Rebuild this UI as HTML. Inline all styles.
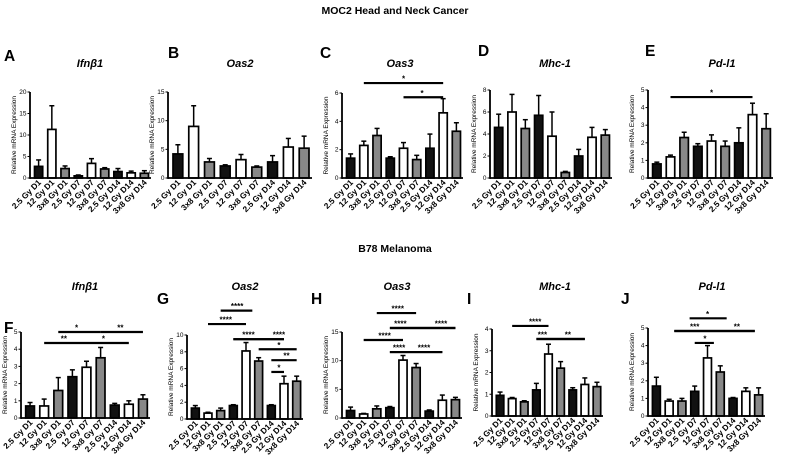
<!DOCTYPE html>
<html><head><meta charset="utf-8"><style>
body{margin:0;background:#fff;}
svg{display:block;font-family:"Liberation Sans",Arial,sans-serif;}
</style></head><body>
<svg id="fig" width="789" height="465" viewBox="0 0 789 465">
<text x="395" y="14" text-anchor="middle" font-size="10.5" font-weight="bold">MOC2 Head and Neck Cancer</text>
<text x="395" y="252" text-anchor="middle" font-size="10.5" font-weight="bold">B78 Melanoma</text>
</svg>
<script>
const categories = ["2.5 Gy D1","12 Gy D1","3x8 Gy D1","2.5 Gy D7","12 Gy D7","3x8 Gy D7","2.5 Gy D14","12 Gy D14","3x8 Gy D14"];
const valsA=[2.7,11.3,2.2,0.5,3.4,2.1,1.5,1.2,1.1];
const errA=[4.2,16.8,2.8,0.7,4.5,2.4,2.2,1.6,1.7];
const ticksA=[0,5,10,15,20];
const valsB=[4.2,9,2.8,2.1,3.2,1.9,2.8,5.4,5.2];
const errB=[5.8,12.6,3.4,2.3,4.1,2.1,3.9,6.9,7.3];
const ticksB=[0,5,10,15];
const valsC=[1.4,2.3,3.0,1.4,2.1,1.3,2.1,4.6,3.3];
const errC=[1.7,2.6,3.5,1.5,2.5,1.6,3.1,5.6,3.9];
const ticksC=[0,2,4,6];
const valsD=[4.6,6.0,4.5,5.7,3.8,0.5,2.0,3.7,3.9];
const errD=[5.8,7.6,5.3,7.5,6.0,0.6,2.6,4.6,4.4];
const ticksD=[0,2,4,6,8];
const valsE=[0.8,1.2,2.3,1.8,2.1,1.8,2.0,3.6,2.8];
const errE=[0.9,1.3,2.6,1.95,2.45,2.1,2.85,4.25,3.65];
const ticksE=[0,1,2,3,4,5];
const valsF=[0.7,0.7,1.6,2.4,2.95,3.5,0.75,0.8,1.1];
const errF=[0.9,1.1,2.35,2.8,3.3,4.1,0.85,1.0,1.35];
const ticksF=[0,1,2,3,4,5];
const valsG=[1.3,0.7,1.0,1.6,8.1,6.9,1.6,4.2,4.5];
const errG=[1.6,0.8,1.3,1.7,9.1,7.3,1.7,5.1,5.1];
const ticksG=[0,2,4,6,8,10];
const valsH=[1.3,0.7,1.6,1.8,10.1,8.8,1.2,3.1,3.2];
const errH=[1.9,0.8,2.1,2.0,10.9,9.5,1.4,4.0,3.6];
const ticksH=[0,5,10,15];
const valsI=[0.95,0.8,0.65,1.2,2.85,2.2,1.2,1.45,1.35];
const errI=[1.1,0.85,0.7,1.5,3.3,2.5,1.3,1.75,1.55];
const ticksI=[0,1,2,3,4];
const valsJ=[1.7,0.85,0.85,1.4,3.3,2.5,1.0,1.4,1.2];
const errJ=[2.2,0.95,1.0,1.7,4.0,2.85,1.05,1.6,1.6];
const ticksJ=[0,1,2,3,4,5];
// significance: [fromCat, toCat, level(value units), label, labelCat]
const sigA=[],sigB=[],sigD=[];
const sigC=[[1,7,6.7,"*",4],[4,7,5.7,"*",5.4]];
const sigE=[[1,7,4.6,"*",4]];
const sigF=[[1,4,4.36,"**",2.4],[4,7,4.36,"*",5.2],[2,5,5.0,"*",3.3],[5,8,5.0,"**",6.4]];
const sigG=[[2,4.5,12.9,"****",3.3],[1,4,11.3,"****",2.4],[3,7,9.5,"****",4.2],[3,7,9.5,"****",6.6],[5,8,8.3,"*",6.6],[6,8,7.0,"**",7.2],[6,7,5.6,"*",6.6]];
const sigH=[[2,5,18.3,"****",3.6],[3,8,15.7,"****",3.8],[3,8,15.7,"****",6.9],[1,4,13.6,"****",2.6],[3,7,11.5,"****",3.7],[3,7,11.5,"****",5.6]];
const sigI=[[1,4,4.14,"****",2.9],[3,7,3.54,"***",3.5],[3,7,3.54,"**",5.6]];
const sigJ=[[2.6,5.5,5.55,"*",4],[1.4,7.7,4.83,"***",3],[1.4,7.7,4.83,"**",6.3],[3,4.5,4.15,"*",3.8]];

const panels=[
 {id:"a",letter:"A",lx:4,ly:61,gene:"Ifnβ1",gx:90,gy:67,x0:30,x1:151,yTop:92,y0:178,vals:valsA,err:errA,ticks:ticksA,sig:sigA},
 {id:"b",letter:"B",lx:168,ly:58,gene:"Oas2",gx:240,gy:67,x0:168,x1:312,yTop:92,y0:178,vals:valsB,err:errB,ticks:ticksB,sig:sigB},
 {id:"c",letter:"C",lx:320,ly:58,gene:"Oas3",gx:400,gy:67,x0:342,x1:463,yTop:93,y0:178,vals:valsC,err:errC,ticks:ticksC,sig:sigC},
 {id:"d",letter:"D",lx:478,ly:56,gene:"Mhc-1",gx:555,gy:67,x0:490,x1:612,yTop:90,y0:178,vals:valsD,err:errD,ticks:ticksD,sig:sigD},
 {id:"e",letter:"E",lx:645,ly:56,gene:"Pd-l1",gx:722,gy:67,x0:648,x1:773,yTop:90,y0:178,vals:valsE,err:errE,ticks:ticksE,sig:sigE},
 {id:"f",letter:"F",lx:4,ly:333,gene:"Ifnβ1",gx:85,gy:290,x0:21,x1:150,yTop:332,y0:418,vals:valsF,err:errF,ticks:ticksF,sig:sigF},
 {id:"g",letter:"G",lx:157,ly:304,gene:"Oas2",gx:245,gy:290,x0:187,x1:303,yTop:335,y0:419,vals:valsG,err:errG,ticks:ticksG,sig:sigG},
 {id:"h",letter:"H",lx:311,ly:304,gene:"Oas3",gx:397,gy:290,x0:342,x1:462,yTop:332,y0:418,vals:valsH,err:errH,ticks:ticksH,sig:sigH},
 {id:"i",letter:"I",lx:467,ly:304,gene:"Mhc-1",gx:555,gy:290,x0:492,x1:603,yTop:329,y0:416,vals:valsI,err:errI,ticks:ticksI,sig:sigI},
 {id:"j",letter:"J",lx:621,ly:304,gene:"Pd-l1",gx:712,gy:290,x0:648,x1:765,yTop:328,y0:416,vals:valsJ,err:errJ,ticks:ticksJ,sig:sigJ}
];
const fills=["#111","#fff","#888"];
const NS="http://www.w3.org/2000/svg";
const svg=document.getElementById("fig");
function mk(tag,attrs,parent,text){const e=document.createElementNS(NS,tag);for(const k in attrs)e.setAttribute(k,attrs[k]);if(text!==undefined)e.textContent=text;parent.appendChild(e);return e;}
panels.forEach(p=>{
 const g=mk("g",{},svg);
 
 
 const maxT=p.ticks[p.ticks.length-1];
 const yS=v=>p.y0-(v/maxT)*(p.y0-p.yTop);
 const band=(p.x1-p.x0-2)/categories.length;
 const xC=i=>p.x0+2+band*(i+0.5);
 const bw=band*0.62;
 const lt=mk("text",{x:p.lx,y:p.ly,"font-size":15.5,"font-weight":"bold"},g,p.letter);
 
 
 const gt=mk("text",{x:p.gx,y:p.gy,"font-size":11,"font-weight":"bold","font-style":"italic","text-anchor":"middle"},g,p.gene);
 
 
 const yt=mk("text",{x:0,y:0,"font-size":6.5,"text-anchor":"middle",transform:`translate(${p.x0-14},${(p.yTop+p.y0)/2}) rotate(-90)`},g,"Relative mRNA Expression");
 
 
 p.vals.forEach((v,i)=>{
  const cx=xC(i),top=yS(v),et=yS(p.err[i]);
  const el=mk("line",{x1:cx,x2:cx,y1:top,y2:et,stroke:"#000","stroke-width":1.5},g);
  
  
  const cap=mk("line",{x1:cx-2.5,x2:cx+2.5,y1:et,y2:et,stroke:"#000","stroke-width":1.5},g);
  
  
  const r=mk("rect",{x:cx-bw/2,y:top,width:bw,height:Math.max(0,p.y0-top),fill:fills[i%3],stroke:"#000","stroke-width":1.7},g);
  
  
  const xl=mk("text",{x:0,y:0,"font-size":8.2,"font-weight":"bold","text-anchor":"end",transform:`translate(${cx+3},${p.y0+5}) rotate(-45)`},g,categories[i]);
  
  
 });
 p.ticks.forEach(t=>{
  const y=yS(t);
  const tl=mk("line",{x1:p.x0-2.5,x2:p.x0,y1:y,y2:y,stroke:"#000","stroke-width":1},g);
  
  
  const tt=mk("text",{x:p.x0-3.5,y:y+2,"font-size":6.5,"text-anchor":"end"},g,String(t));
  
  
 });
 const ya=mk("line",{x1:p.x0,x2:p.x0,y1:p.yTop,y2:p.y0+0.9,stroke:"#000","stroke-width":1.8},g);
 
 
 const xa=mk("line",{x1:p.x0,x2:p.x1,y1:p.y0,y2:p.y0,stroke:"#000","stroke-width":1.8},g);
 
 
 p.sig.forEach((s,k)=>{
  const y=yS(s[2]);
  const sl=mk("line",{x1:xC(s[0]),x2:xC(s[1]),y1:y,y2:y,stroke:"#000","stroke-width":2.2},g);
  
  
  const st=mk("text",{x:xC(s[4]),y:y-1.5,"font-size":8,"font-weight":"bold","text-anchor":"middle"},g,s[3]);
  
  
 });
});
</script>
</body></html>
